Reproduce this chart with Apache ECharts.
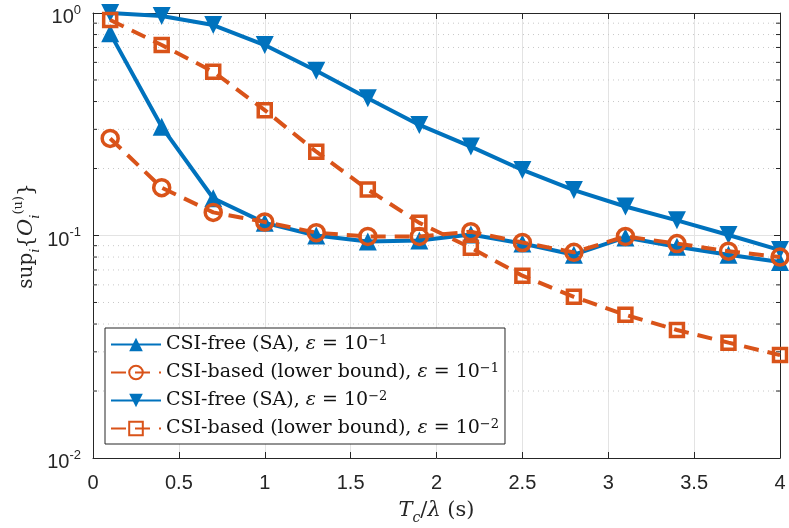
<!DOCTYPE html>
<html>
<head>
<meta charset="utf-8">
<script src="https://cdn.jsdelivr.net/npm/echarts@6/dist/echarts.min.js"></script>
<style>
  html, body { margin: 0; padding: 0; background: #fff; }
  #chart { width: 789px; height: 528px; }
</style>
</head>
<body>
<div id="chart"></div>
<script>
// x positions (Tc/lambda, s)
var xs = [0.1, 0.4, 0.7, 1.0, 1.3, 1.6, 1.9, 2.2, 2.5, 2.8, 3.1, 3.4, 3.7, 4.0];

// CSI-free (SA), eps = 1e-1
var freeE1 = [0.81, 0.308, 0.147, 0.114, 0.100, 0.094, 0.095, 0.101, 0.092, 0.082, 0.098, 0.089, 0.082, 0.076];
// CSI-based (lower bound), eps = 1e-1
var basedE1 = [0.273, 0.164, 0.127, 0.115, 0.103, 0.099, 0.099, 0.104, 0.093, 0.084, 0.099, 0.092, 0.085, 0.080];
// CSI-free (SA), eps = 1e-2
var freeE2 = [1.0, 0.97, 0.883, 0.718, 0.55, 0.414, 0.314, 0.251, 0.197, 0.160, 0.135, 0.117, 0.1005, 0.086];
// CSI-based (lower bound), eps = 1e-2
var basedE2 = [0.93, 0.718, 0.545, 0.366, 0.238, 0.161, 0.114, 0.088, 0.066, 0.053, 0.044, 0.0376, 0.033, 0.029];

var names = [
  'CSI-free (SA), eps1',
  'CSI-based (lower bound), eps1',
  'CSI-free (SA), eps2',
  'CSI-based (lower bound), eps2'
];
var legendText = {};
legendText[names[0]] = '{t|CSI-free (SA), }{e|ε}{t| = 10}{s|−1}';
legendText[names[1]] = '{t|CSI-based (lower bound), }{e|ε}{t| = 10}{s|−1}';
legendText[names[2]] = '{t|CSI-free (SA), }{e|ε}{t| = 10}{s|−2}';
legendText[names[3]] = '{t|CSI-based (lower bound), }{e|ε}{t| = 10}{s|−2}';

// minor log ticks (dotted grid)
var minorTicks = [0.02, 0.03, 0.04, 0.05, 0.06, 0.07, 0.08, 0.09,
                  0.2, 0.3, 0.4, 0.5, 0.6, 0.7, 0.8, 0.9];

var blue = '#0072BD';
var orange = '#D95319';
var axisColor = '#262626';

function pairs(ys) {
  return xs.map(function (x, i) { return [x, ys[i]]; });
}

var myChart = echarts.init(document.getElementById('chart'));

var option = {
  animation: false,
  grid: { left: 93, right: 9, top: 13, bottom: 70, outerBoundsMode: 'none', containLabel: false },
  xAxis: [{
    type: 'value',
    min: 0, max: 4, interval: 0.5,
    axisLine: { show: true, onZero: false, lineStyle: { color: axisColor, width: 1 } },
    axisTick: { show: true, inside: true, length: 6, lineStyle: { color: axisColor } },
    axisLabel: {
      color: '#262626', fontFamily: 'Liberation Sans', fontSize: 20, margin: 15,
      formatter: function (v) { return String(v); }
    },
    splitLine: { show: true, lineStyle: { color: '#e3e3e3', width: 1 } },
    name: '{i|T}{sb|c}{r|/}{i|λ}{r| (s)}',
    nameLocation: 'middle',
    nameGap: 39,
    nameTextStyle: {
      rich: {
        i: { fontFamily: 'DejaVu Serif', fontStyle: 'italic', fontSize: 21, color: '#262626', lineHeight: 28 },
        r: { fontFamily: 'DejaVu Serif', fontSize: 21, color: '#262626', lineHeight: 28 },
        sb: { fontFamily: 'DejaVu Serif', fontStyle: 'italic', fontSize: 14, color: '#262626', verticalAlign: 'bottom', lineHeight: 15 }
      }
    }
  }, {
    type: 'value',
    position: 'top',
    min: 0, max: 4, interval: 0.5,
    axisLine: { show: true, onZero: false, lineStyle: { color: axisColor, width: 1 } },
    axisTick: { show: true, inside: true, length: 6, lineStyle: { color: axisColor } },
    axisLabel: { show: false },
    splitLine: { show: false }
  }],
  yAxis: [{
    type: 'log',
    logBase: 10,
    min: 0.01, max: 1, interval: 1,
    axisLine: { show: true, onZero: false, lineStyle: { color: axisColor, width: 1 } },
    axisTick: { show: true, inside: true, length: 6, lineStyle: { color: axisColor } },
    axisLabel: {
      margin: 12,
      padding: [9, 0, 0, 0],
      formatter: function (v) {
        var e = Math.round(Math.log(v) / Math.LN10);
        return '{b|10}{e|' + e + '}';
      },
      rich: {
        b: { fontFamily: 'Liberation Sans', fontSize: 20, color: '#262626', lineHeight: 28 },
        e: { fontFamily: 'Liberation Sans', fontSize: 13, color: '#262626', lineHeight: 13, verticalAlign: 'top' }
      }
    },
    splitLine: { show: true, lineStyle: { color: '#e3e3e3', width: 1 } }
  }, {
    type: 'log',
    logBase: 10,
    position: 'right',
    min: 0.01, max: 1, interval: 1,
    axisLine: { show: true, onZero: false, lineStyle: { color: axisColor, width: 1 } },
    axisTick: { show: true, inside: true, length: 6, lineStyle: { color: axisColor } },
    axisLabel: { show: false },
    splitLine: { show: false }
  }],
  legend: {
    data: names,
    orient: 'vertical',
    left: 105,
    top: 328,
    itemWidth: 50,
    itemHeight: 17,
    itemGap: 8,
    padding: [6, 6, 6, 5],
    backgroundColor: '#ffffff',
    borderColor: axisColor,
    borderWidth: 1,
    borderRadius: 0,
    formatter: function (n) { return legendText[n]; },
    textStyle: {
      rich: {
        t: { fontFamily: 'DejaVu Serif', fontSize: 19, color: '#111', lineHeight: 21 },
        e: { fontFamily: 'DejaVu Serif', fontStyle: 'italic', fontSize: 19, color: '#111', lineHeight: 21 },
        s: { fontFamily: 'DejaVu Serif', fontSize: 13, color: '#111', lineHeight: 13, verticalAlign: 'top' }
      }
    }
  },
  graphic: [{
    type: 'text',
    x: 27,
    y: 236,
    rotation: Math.PI / 2,
    style: {
      text: '{n|sup}{sb|i}{n|{}{c|O}{sb|i}{sp|(u)}}',
      align: 'center',
      verticalAlign: 'middle',
      fontFamily: 'DejaVu Serif',
      fontSize: 20,
      fill: '#262626',
      rich: {
        n: { fontFamily: 'DejaVu Serif', fontSize: 20, fill: '#262626', lineHeight: 30 },
        c: { fontFamily: 'DejaVu Serif', fontStyle: 'italic', fontSize: 21, fill: '#262626', lineHeight: 30 },
        sb: { fontFamily: 'DejaVu Serif', fontStyle: 'italic', fontSize: 13, fill: '#262626', lineHeight: 13, verticalAlign: 'bottom' },
        sp: { fontFamily: 'DejaVu Serif', fontSize: 13, fill: '#262626', lineHeight: 13, verticalAlign: 'top' }
      }
    }
  }],
  series: [{
    type: 'custom',
    name: 'minor',
    silent: true,
    z: 1,
    coordinateSystem: 'cartesian2d',
    data: minorTicks.map(function (v) { return [0, v]; }),
    encode: { x: 0, y: 1 },
    renderItem: function (params, api) {
      var v = api.value(1);
      var p0 = api.coord([0, v]);
      var p1 = api.coord([4, v]);
      return {
        type: 'group',
        children: [{
          type: 'line',
          shape: { x1: p0[0], y1: p0[1], x2: p1[0], y2: p1[1] },
          style: { stroke: '#c8c8c8', lineWidth: 1, lineDash: [1, 4] }
        }, {
          type: 'line',
          shape: { x1: p0[0], y1: p0[1], x2: p0[0] + 4, y2: p0[1] },
          style: { stroke: axisColor, lineWidth: 1 }
        }, {
          type: 'line',
          shape: { x1: p1[0] - 4, y1: p1[1], x2: p1[0], y2: p1[1] },
          style: { stroke: axisColor, lineWidth: 1 }
        }]
      };
    }
  }, {
    name: names[0],
    type: 'line',
    data: pairs(freeE1),
    color: blue,
    symbol: 'triangle',
    symbolSize: 18,
    lineStyle: { color: blue, width: 4 },
    itemStyle: { color: blue },
    z: 3
  }, {
    name: names[1],
    type: 'line',
    data: pairs(basedE1),
    color: orange,
    symbol: 'circle',
    symbolSize: 16,
    lineStyle: { color: orange, width: 4, type: [15, 9] },
    itemStyle: { color: 'rgba(255,255,255,0)', borderColor: orange, borderWidth: 3.5 },
    z: 4
  }, {
    name: names[2],
    type: 'line',
    data: pairs(freeE2),
    color: blue,
    symbol: 'triangle',
    symbolRotate: 180,
    symbolSize: 18,
    lineStyle: { color: blue, width: 4 },
    itemStyle: { color: blue },
    z: 3
  }, {
    name: names[3],
    type: 'line',
    data: pairs(basedE2),
    color: orange,
    symbol: 'rect',
    symbolSize: 13,
    lineStyle: { color: orange, width: 4, type: [15, 9] },
    itemStyle: { color: 'rgba(255,255,255,0)', borderColor: orange, borderWidth: 3.5 },
    z: 4
  }]
};

myChart.setOption(option);
</script>
</body>
</html>
